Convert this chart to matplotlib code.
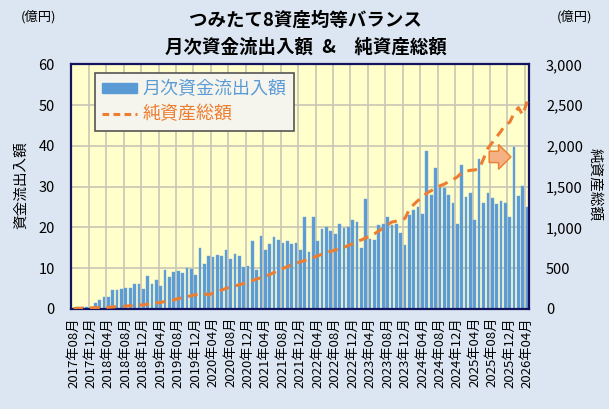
import matplotlib
matplotlib.use("Agg")
import matplotlib.pyplot as plt
from matplotlib.patches import FancyArrow, Patch
from matplotlib.lines import Line2D
import numpy as np

plt.rcParams['font.family'] = ['Noto Sans CJK JP', 'DejaVu Sans']

# ---- data ----
start_year, start_month = 2017, 8
flows = [0.2, 0.3, 0.3, 0.4, 0.5, 1.4, 2.1, 2.8, 2.8, 4.6,
         4.5, 4.8, 5.2, 5.2, 6.0, 6.0, 4.8, 8.0, 6.1, 7.1,
         5.6, 9.5, 7.7, 9.0, 9.2, 8.8, 10.0, 9.75, 8.3, 14.9,
         10.9, 12.9, 12.6, 13.3, 12.9, 14.4, 12.1, 13.4, 13.0, 10.3,
         10.5, 16.6, 9.5, 17.9, 14.3, 15.9, 17.7, 16.9, 16.2, 16.6,
         16.0, 16.1, 14.3, 22.5, 13.9, 22.5, 16.7, 19.5, 20.1, 19.1,
         18.4, 20.8, 19.8, 20.0, 21.8, 21.2, 14.9, 26.9, 17.2, 16.9,
         20.6, 20.8, 22.5, 20.6, 20.7, 18.7, 15.6, 23.0, 24.3, 24.9,
         23.3, 38.8, 27.9, 34.5, 30.0, 29.6, 27.9, 26.0, 20.8, 35.3,
         27.4, 28.5, 21.8, 36.7, 25.9, 28.4, 27.3, 25.7, 26.5, 25.9,
         22.6, 39.7, 27.7, 30.2, 25.1]
nav = [2, 4, 6, 8, 10, 12, 14, 16, 18, 22,
       25, 28, 32, 36, 41, 46, 46, 55, 62, 70,
       78, 88, 100, 108, 124, 134, 146, 160, 172, 180,
       184, 168, 195, 212, 230, 250, 268, 280, 294, 310,
       328, 345, 364, 380, 398, 420, 446, 472, 494, 516,
       540, 560, 575, 592, 612, 630, 650, 670, 690, 705,
       722, 735, 755, 775, 800, 828, 845, 870, 893, 920,
       955, 990, 1030, 1065, 1075, 1085, 1110, 1220, 1280, 1330,
       1370, 1420, 1450, 1480, 1510, 1530, 1560, 1585, 1620, 1670,
       1690, 1700, 1705, 1720, 1840, 1970, 2040, 2110, 2180, 2260,
       2290, 2400, 2470, 2380, 2545]
n = len(flows)
months = []
for i in range(n):
    m = start_month - 1 + i
    months.append(f"{start_year + m // 12}年{m % 12 + 1:02d}月")
label_step = 4

title1 = "つみたて8資産均等バランス"
title2 = "月次資金流出入額\u2002&\u3000純資産総額"
flow_label = "月次資金流出入額"
nav_label = "純資産総額"
left_ylabel = "資金流出入額"
right_ylabel = "純資産総額"
unit = "(億円)"

BLUE = '#5B9BD5'
ORANGE = '#ED7D31'

fig = plt.figure(figsize=(6.09, 4.09), dpi=100)
fig.patch.set_facecolor('#DCE6F2')
ax = fig.add_axes([71.3 / 609, 1 - 308.7 / 409, 458 / 609, 244.2 / 409])
ax.set_facecolor('#FFFFCC')
x = np.arange(n)
ax.bar(x, flows, width=0.62, color=BLUE, edgecolor='#6FA8DC', linewidth=0.3, zorder=2)
ax.set_xlim(-0.5, n - 0.5)
ax.set_ylim(0, 60)
ax.set_yticks(np.arange(0, 61, 10))
ax.set_xticks(x[::label_step])
ax.set_xticklabels(months[::label_step], rotation=90, fontsize=9.5)
ax.set_xticks(np.arange(-0.5 + label_step, n - 0.5, label_step), minor=True)
ax.grid(axis='x', which='minor', color='#C9C6B4', linewidth=1.2, zorder=0)
ax.grid(axis='y', which='major', color='#C9C6B4', linewidth=1.2, zorder=0)
ax.set_axisbelow(True)
ax.tick_params(axis='both', which='both', length=0)
ax.tick_params(axis='y', labelsize=10.5, pad=12)
ax.tick_params(axis='x', pad=6)
for s in ax.spines.values():
    s.set_color('#14145E')
    s.set_linewidth(1.6)

ax2 = ax.twinx()
ax2.set_ylim(0, 3000)
ax2.set_yticks(np.arange(0, 3001, 500))
ax2.set_yticklabels([f"{v:,}" for v in range(0, 3001, 500)])
ax2.tick_params(axis='y', length=0, labelsize=10.5, pad=12)
line, = ax2.plot(x, nav, color=ORANGE, linewidth=2.2, zorder=3)
line.set_dashes([3.2, 2.2])
for s in ax2.spines.values():
    s.set_visible(False)

# block arrow annotation
ax.add_patch(FancyArrow(95.3, 37.3, 5.0, 0, width=2.8, head_width=6.1,
                        head_length=2.85, length_includes_head=True,
                        facecolor='#F4B183', edgecolor=ORANGE, linewidth=1.0, zorder=4))

handles = [Patch(facecolor=BLUE, edgecolor=BLUE),
           Line2D([0], [0], color=ORANGE, linewidth=2.2, dashes=[2.2, 1.4])]
leg = ax2.legend(handles, [flow_label, nav_label], loc='upper left',
                 bbox_to_anchor=((95 - 71.3) / 458, (308.7 - 73) / 244.2),
                 borderaxespad=0, fontsize=13, frameon=True, fancybox=False,
                 facecolor='#F5F5EE', edgecolor='#555555', framealpha=1,
                 handlelength=1.9, handleheight=0.5, labelspacing=0.4,
                 borderpad=0.4, handletextpad=0.35)
leg.get_frame().set_linewidth(1.2)
for t, c in zip(leg.get_texts(), [BLUE, ORANGE]):
    t.set_color(c)

fig.text(305 / 609, 1 - 20 / 409, title1, ha='center', va='center', fontsize=13.3,
         fontweight='bold')
fig.text(306 / 609, 1 - 47 / 409, title2, ha='center', va='center', fontsize=13.3,
         fontweight='bold')
fig.text(38 / 609, 1 - 17 / 409, unit, ha='center', va='center', fontsize=9.5)
fig.text(574 / 609, 1 - 17 / 409, unit, ha='center', va='center', fontsize=9.5)
fig.text(21 / 609, 1 - 185 / 409, left_ylabel, ha='center', va='center', fontsize=10.5,
         rotation=90)
fig.text(595 / 609, 1 - 185 / 409, right_ylabel, ha='center', va='center', fontsize=10.5,
         rotation=270)

fig.savefig('out.png', dpi=100, facecolor=fig.get_facecolor())
